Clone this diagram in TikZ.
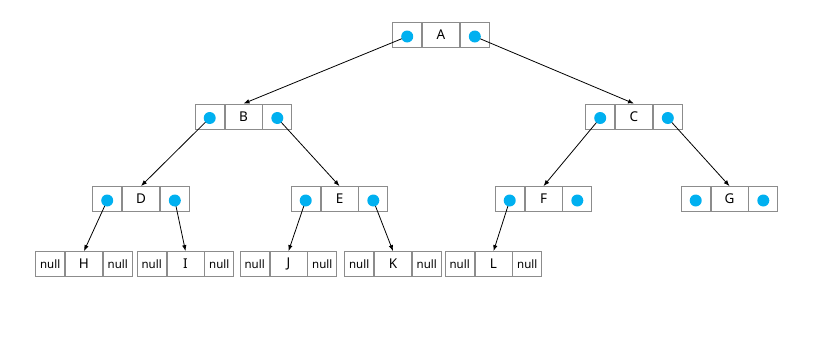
\documentclass[tikz,border=0pt]{standalone}
\usepackage{fontspec}
\setmainfont{Noto Sans}
\usetikzlibrary{positioning, arrows.meta}
\definecolor{dotblue}{HTML}{00B0F0}
\definecolor{boxgray}{HTML}{8C8C8C}

\begin{document}
\begin{tikzpicture}[x=1pt, y=-1pt,
  cell/.style={draw=boxgray, line width=0.8pt, minimum height=25pt, inner sep=0pt,
    font=\fontsize{13.5}{14}\selectfont},
  key/.style={cell, minimum width=37pt},
  side/.style={cell, minimum width=29pt},
  nullcell/.style={side, font=\fontsize{11.5}{12}\selectfont},
  dot/.style={fill=dotblue},
  link/.style={-{Latex[length=6pt, width=4.5pt]}, line width=0.8pt}]
  \useasboundingbox (0,0) rectangle (826,343);

  % Inner nodes with two child pointers
  \foreach \n/\x/\y in {A/441/35, B/243.5/116.5, C/634/116.5,
                        D/141/199, E/339.5/199, F/543.5/199, G/729.5/199} {
    \node[key] (\n) at (\x,\y) {\n};
    \node[side, left=0pt of \n] (\n-l) {};
    \node[side, right=0pt of \n] (\n-r) {};
  }

  % Leaves
  \foreach \n/\x in {H/84, I/185.5, J/288.5, K/393, L/493.5} {
    \node[key] (\n) at (\x,264) {\n};
    \node[nullcell, left=0pt of \n] (\n-l) {null};
    \node[nullcell, right=0pt of \n] (\n-r) {null};
  }

  % Pointers
  \foreach \a/\b in {A-l/B, A-r/C, B-l/D, B-r/E, C-l/F, C-r/G,
                     D-l/H, D-r/I, E-l/J, E-r/K, F-l/L} {
    \draw[link] ([yshift=-1.5pt]\a.center) -- (\b.north);
  }

  % Pointer dots on top of the lines
  \foreach \n in {A, B, C, D, E, F, G} {
    \fill[dot] ([yshift=-1.5pt]\n-l.center) circle (6pt);
    \fill[dot] ([yshift=-1.5pt]\n-r.center) circle (6pt);
  }
\end{tikzpicture}
\end{document}
